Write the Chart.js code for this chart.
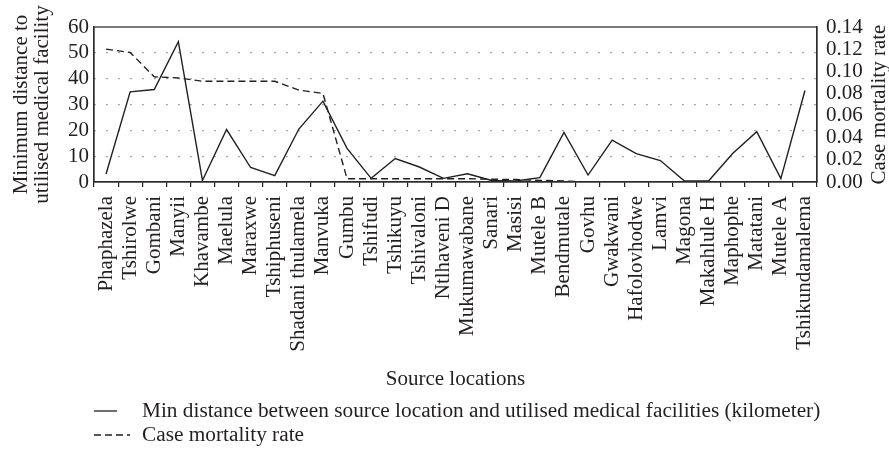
<!DOCTYPE html>
<html>
<head>
<meta charset="utf-8">
<script src="https://cdn.jsdelivr.net/npm/chart.js@4"></script>
<style>
html,body{margin:0;padding:0;background:#fff;}
#wrap{width:889px;height:460px;position:relative;}
</style>
</head>
<body>
<div id="wrap"><canvas id="c" width="889" height="460"></canvas></div>
<script>
const categories = ["Phaphazela","Tshirolwe","Gombani","Manyii","Khavambe","Maelula","Maraxwe","Tshiphuseni","Shadani thulamela","Manvuka","Gumbu","Tshifudi","Tshikuyu","Tshivaloni","Ntlhaveni D","Mukumawabane","Sanari","Masisi","Mutele B","Bendmutale","Govhu","Gwakwani","Hafolovhodwe","Lamvi","Magona","Makahlule H","Maphophe","Matatani","Mutele A","Tshikundamalema"];
const minDistance = [3.1,34.9,35.8,54.3,0.6,20.3,5.6,2.5,20.5,31.3,13.0,1.4,9.1,5.8,1.4,3.2,0.6,0.4,1.7,19.2,2.7,16.2,11.0,8.3,0.4,0.4,11.0,19.5,1.3,35.4];
const mortality = [0.120,0.117,0.095,0.094,0.091,0.091,0.091,0.091,0.083,0.080,0.003,0.003,0.003,0.003,0.003,0.003,0.0025,0.0022,0.0015,0.001,0,0,0,0,0,0,0,0,0,0];
const leftTicks = [0,10,20,30,40,50,60];
const rightTicks = [0,0.02,0.04,0.06,0.08,0.10,0.12,0.14];
const seriesLabels = ["Min distance between source location and utilised medical facilities (kilometer)","Case mortality rate"];
const axisTitles = {left:["Minimum distance to","utilised medical facility"], right:"Case mortality rate", x:"Source locations"};

const INK = '#231f20';
const FONT = '"Liberation Serif", "Times New Roman", serif';

const frame = {
  id:'frame',
  afterDraw(chart){
    const {ctx, chartArea:a} = chart;
    ctx.save();
    ctx.strokeStyle = '#333';
    ctx.lineWidth = 1.3;
    ctx.strokeRect(a.left, a.top, a.right-a.left, a.bottom-a.top);
    // right axis title (reads bottom-to-top)
    ctx.fillStyle = INK;
    ctx.font = '21px ' + FONT;
    ctx.textAlign = 'center';
    ctx.textBaseline = 'middle';
    ctx.translate(879, (a.top+a.bottom)/2);
    ctx.rotate(-Math.PI/2);
    ctx.fillText(axisTitles.right, 0, 0);
    ctx.restore();
    // legend
    ctx.save();
    ctx.font = '21.3px ' + FONT;
    ctx.fillStyle = INK;
    ctx.textBaseline = 'middle';
    ctx.textAlign = 'left';
    const rows = [411, 435];
    chart.data.datasets.forEach((ds, i) => {
      const y = rows[i];
      ctx.strokeStyle = INK;
      ctx.lineWidth = 1.3;
      ctx.setLineDash(ds.borderDash || []);
      ctx.beginPath();
      ctx.moveTo(94, y);
      ctx.lineTo(i === 0 ? 117 : 130, y);
      ctx.stroke();
      ctx.setLineDash([]);
      ctx.fillText(ds.label, 142, y);
    });
    ctx.restore();
  }
};

new Chart(document.getElementById('c'), {
  type:'line',
  data:{
    labels: categories,
    datasets:[
      {label: seriesLabels[0], data: minDistance, yAxisID:'y', borderColor: INK, borderWidth:1.4, pointRadius:0, tension:0, fill:false},
      {label: seriesLabels[1], data: mortality, yAxisID:'y1', borderColor: INK, borderWidth:1.4, borderDash:[7,4], pointRadius:0, tension:0, fill:false}
    ]
  },
  options:{
    responsive:false,
    animation:false,
    layout:{padding:{top:27, bottom:65, left:0, right:0}},
    plugins:{legend:{display:false}, tooltip:{enabled:false}},
    scales:{
      x:{
        offset:true,
        afterFit(s){ s.height = 213; },
        grid:{drawOnChartArea:false, drawTicks:true, tickLength:5, color:INK, offset:true, lineWidth:1.2},
        border:{color:INK, width:1.2},
        ticks:{autoSkip:false, maxRotation:90, minRotation:90, padding:9, color:INK, font:{family:FONT, size:21}},
        title:{display:true, text:axisTitles.x, color:INK, font:{family:FONT, size:21, lineHeight:1}, padding:{top:0, bottom:5}}
      },
      y:{
        position:'left',
        min:0, max:60,
        afterFit(s){ s.width = 94; },
        afterBuildTicks(s){ s.ticks = leftTicks.map(v=>({value:v})); },
        grid:{drawTicks:false, color:(c)=> (c.tick && (c.tick.value===0 || c.tick.value===60)) ? 'rgba(0,0,0,0)' : '#8a8a8a', lineWidth:1.3},
        border:{color:INK, width:1.2, dash:[1.5,10.5]},
        ticks:{autoSkip:false, padding:5, color:INK, font:{family:FONT, size:21}},
        title:{display:true, text:axisTitles.left, color:INK, font:{family:FONT, size:21, lineHeight:1}, padding:{top:11, bottom:0}}
      },
      y1:{
        position:'right',
        min:0, max:0.14,
        afterFit(s){ s.width = 72; },
        afterBuildTicks(s){ s.ticks = rightTicks.map(v=>({value:v})); },
        grid:{drawOnChartArea:false, drawTicks:false},
        border:{color:INK, width:1.2},
        ticks:{autoSkip:false, padding:9, color:INK, font:{family:FONT, size:21}, callback:(v)=>Number(v).toFixed(2)}
      }
    }
  },
  plugins:[frame]
});
</script>
</body>
</html>
